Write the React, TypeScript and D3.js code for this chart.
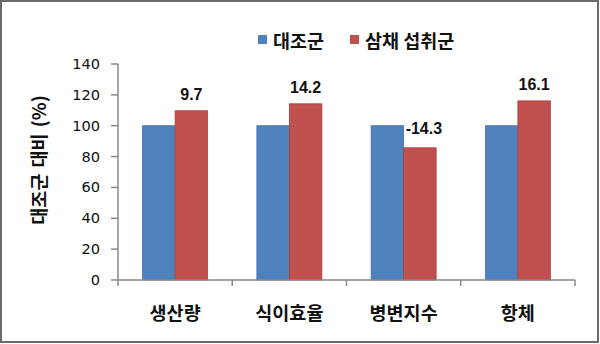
import React from "react";
import * as d3 from "d3";

const categories = ["생산량", "식이효율", "병변지수", "항체"];
const seriesNames = ["대조군", "삼채 섭취군"];
const controlValues = [100, 100, 100, 100];
const treatmentValues = [109.7, 114.2, 85.7, 116.1];
const changeLabels = ["9.7", "14.2", "-14.3", "16.1"];
const yTicks = [0, 20, 40, 60, 80, 100, 120, 140];
const colors = ["#4F81BD", "#C0504D"];
const strokeColors = ["#4573AD", "#B0403D"];

const W = 600;
const H = 344;
const KR = "'Noto Sans CJK KR', 'Noto Sans', sans-serif";
const NUM = "'Liberation Sans', Arial, sans-serif";

export default function App() {
  const left = 118;
  const right = 575;
  const top = 64;
  const bottom = 280;

  const y = d3.scaleLinear().domain([0, 140]).range([bottom, top]);
  const x = d3.scaleBand<string>().domain(categories).range([left, right]).padding(0);
  const bw = x.bandwidth();
  const gapFrac = 0.2155;
  const x1 = d3
    .scaleBand<number>()
    .domain([0, 1])
    .range([bw * gapFrac, bw * (1 - gapFrac)])
    .padding(0);

  const series = [controlValues, treatmentValues];
  const axisColor = "#898989";

  return (
    <svg
      width={W}
      height={H}
      style={{ position: "absolute", left: 0, top: 0, background: "#fff" }}
    >
      <rect x={1} y={1} width={W - 3} height={H - 3} fill="#fff" stroke="#6b6b6b" strokeWidth={2} />

      {/* Legend */}
      {seriesNames.map((name, i) => {
        const lx = i === 0 ? 258 : 350;
        return (
          <g key={name}>
            <rect x={lx} y={35} width={9} height={9} fill={colors[i]} />
            <text
              x={lx + 15}
              y={48}
              fontFamily={KR}
              fontWeight="bold"
              fontSize={18.5}
              fill="#111"
            >
              {name}
            </text>
          </g>
        );
      })}

      {/* Y axis title */}
      <text
        transform={`translate(46,${160}) rotate(-90)`}
        textAnchor="middle"
        fontFamily={KR}
        fontWeight="bold"
        fontSize={18.5}
        wordSpacing={2}
        fill="#111"
      >
        대조군 대비 (%)
      </text>

      {/* Bars */}
      {categories.map((c, ci) => (
        <g key={c} transform={`translate(${x(c)},0)`}>
          {series.map((vals, si) => (
            <rect
              key={si}
              x={x1(si)}
              y={y(vals[ci])}
              width={x1.bandwidth()}
              height={bottom - y(vals[ci])}
              fill={colors[si]}
              stroke={strokeColors[si]}
              strokeWidth={0.8}
            />
          ))}
        </g>
      ))}

      {/* Data labels */}
      {categories.map((c, ci) => {
        const diff = treatmentValues[ci] - controlValues[ci];
        const cx = (x(c) as number) + (x1(1) as number) + x1.bandwidth() / 2;
        const yy =
          diff >= 0
            ? y(Math.max(treatmentValues[ci], controlValues[ci])) - 11
            : y(controlValues[ci]) + 8.5;
        return (
          <text
            key={c}
            x={diff >= 0 ? cx : cx + 4}
            y={yy}
            textAnchor="middle"
            fontFamily={NUM}
            fontWeight="bold"
            fontSize={16}
            fill="#111"
          >
            {changeLabels[ci]}
          </text>
        );
      })}

      {/* Y axis */}
      <line x1={left} x2={left} y1={top} y2={bottom} stroke={axisColor} strokeWidth={1.5} />
      {yTicks.map((t) => (
        <g key={t}>
          <line x1={left - 7} x2={left} y1={y(t)} y2={y(t)} stroke={axisColor} strokeWidth={1.5} />
          <text
            x={100}
            y={y(t) + 5}
            textAnchor="end"
            fontFamily="'DejaVu Sans', sans-serif"
            fontSize={14.6}
            fill="#111"
          >
            {t}
          </text>
        </g>
      ))}

      {/* X axis */}
      <line x1={left} x2={right} y1={bottom} y2={bottom} stroke={axisColor} strokeWidth={1.5} />
      {[...categories.map((c) => x(c) as number), right].map((tx, i) => (
        <line key={i} x1={tx} x2={tx} y1={bottom} y2={bottom + 6} stroke={axisColor} strokeWidth={1.5} />
      ))}
      {categories.map((c) => (
        <text
          key={c}
          x={(x(c) as number) + bw / 2}
          y={320}
          textAnchor="middle"
          fontFamily={KR}
          fontWeight="bold"
          fontSize={18.5}
          fill="#111"
        >
          {c}
        </text>
      ))}
    </svg>
  );
}
